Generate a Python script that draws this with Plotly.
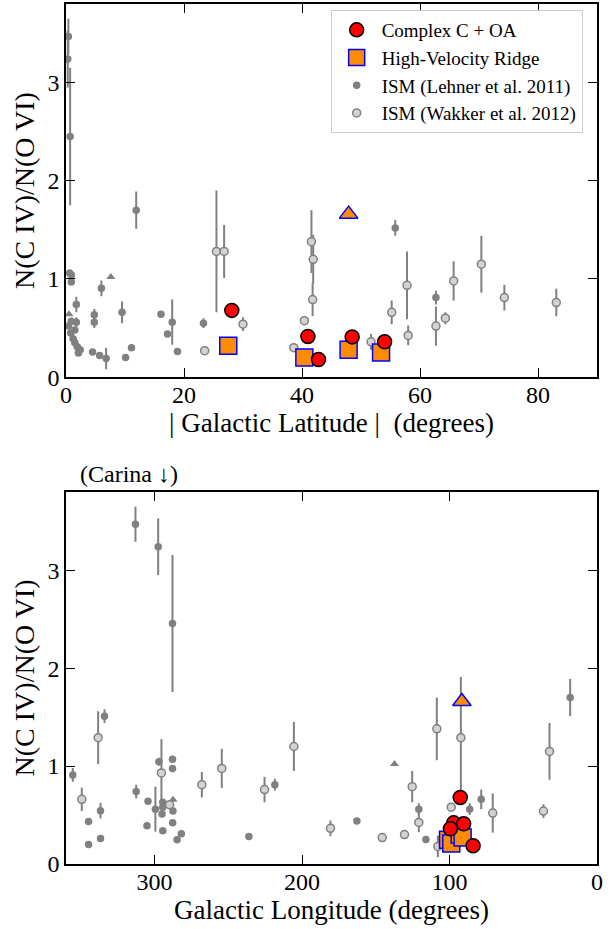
import plotly.graph_objects as go

# ---------------- data: top panel (|Galactic latitude|) ----------------
cc_lat = [28.1, 41.0, 42.8, 48.5, 54.0]
cc_lat_ratio = [0.68, 0.415, 0.18, 0.41, 0.36]

hvr_lat = [27.5, 40.4, 47.9, 53.4]
hvr_lat_ratio = [0.32, 0.20, 0.28, 0.25]
hvr_lat_lim = [47.9]
hvr_lat_lim_ratio = [1.66]

leh_lat = [0.4, 0.3, 0.7, 11.9, 55.8, 0.6, 0.9, 0.9, 6.0, 1.75, 4.8, 4.8, 0.9, 1.75,
           1.5, 0.8, 1.2, 1.5, 1.9, 2.4, 2.1, 0.45, 4.5, 5.7, 6.8, 9.5, 10.1, 11.1,
           16.1, 17.2, 18.0, 18.9, 23.3, 62.7]
leh_lat_ratio = [3.47, 3.24, 2.45, 1.70, 1.52, 1.06, 1.04, 0.97, 0.905, 0.74, 0.635, 0.56,
                 0.57, 0.56, 0.48, 0.45, 0.39, 0.35, 0.31, 0.28, 0.245, 0.52, 0.256, 0.22,
                 0.19, 0.66, 0.20, 0.30, 0.64, 0.44, 0.56, 0.26, 0.55, 0.81]
leh_lat_err = [0.18, 0.29, 0.70, 0.19, 0.08, 0.0, 0.04, 0.0, 0.08, 0.08, 0.06, 0.06,
               0.0, 0.05, 0.0, 0.0, 0.0, 0.0, 0.0, 0.0, 0.0, 0.0, 0.0, 0.0,
               0.11, 0.11, 0.0, 0.0, 0.0, 0.0, 0.23, 0.0, 0.05, 0.07]
leh_lat_lim = [7.6, 0.5]
leh_lat_lim_ratio = [1.02, 0.64]

wak_lat = [25.5, 26.8, 30.0, 23.5, 41.6, 41.9, 41.8, 40.4, 38.6, 57.8, 65.7, 70.4,
           74.3, 83.1, 62.7, 64.3, 55.2, 58.0, 51.7]
wak_lat_ratio = [1.28, 1.28, 0.54, 0.27, 1.38, 1.20, 0.79, 0.575, 0.30, 0.935, 0.98, 1.15,
                 0.81, 0.76, 0.52, 0.60, 0.66, 0.425, 0.36]
wak_lat_err = [0.62, 0.27, 0.07, 0.03, 0.32, 0.25, 0.17, 0.03, 0.03, 0.345, 0.20, 0.29,
               0.13, 0.14, 0.20, 0.06, 0.12, 0.10, 0.08]

# ---------------- data: bottom panel (Galactic longitude) ----------------
cc_lon = [92.7, 97.2, 84.0, 90.4, 99.4]
cc_lon_ratio = [0.68, 0.42, 0.186, 0.41, 0.36]

hvr_lon = [101.0, 98.8, 93.1, 91.1]
hvr_lon_ratio = [0.247, 0.21, 0.30, 0.27]
hvr_lon_lim = [91.6]
hvr_lon_lim_ratio = [1.66]

leh_lon = [312.9, 297.5, 287.8, 333.9, 355.4, 344.7, 344.7, 336.6, 336.6, 312.4, 304.4,
           305.1, 299.4, 297.0, 294.4, 294.4, 294.9, 294.4, 287.8, 287.8, 287.5, 287.7,
           281.8, 284.7, 236.0, 218.4, 162.8, 120.8, 116.0, 86.3, 78.5, 18.2]
leh_lon_ratio = [3.47, 3.24, 2.455, 1.51, 0.91, 0.435, 0.20, 0.545, 0.26, 0.74, 0.64,
                 0.39, 0.56, 1.045, 0.63, 0.58, 0.51, 0.34, 1.07, 0.976, 0.54, 0.42,
                 0.31, 0.247, 0.28, 0.81, 0.44, 0.56, 0.25, 0.56, 0.66, 1.70]
leh_lon_err = [0.18, 0.29, 0.70, 0.07, 0.07, 0.0, 0.0, 0.08, 0.0, 0.07, 0.0,
               0.0, 0.23, 0.04, 0.0, 0.0, 0.0, 0.0, 0.0, 0.0, 0.0, 0.0,
               0.0, 0.0, 0.0, 0.06, 0.0, 0.06, 0.0, 0.06, 0.10, 0.19]
leh_lon_lim = [137.3, 287.5]
leh_lon_lim_ratio = [1.02, 0.655]

wak_lon = [338.2, 349.3, 295.3, 289.8, 267.9, 254.4, 225.4, 205.5, 180.7, 145.6, 130.5,
           125.3, 120.8, 107.9, 108.6, 98.8, 92.3, 70.7, 36.3, 32.2]
wak_lon_ratio = [1.29, 0.66, 0.93, 0.605, 0.81, 0.976, 0.76, 1.20, 0.364, 0.27, 0.30,
                 0.79, 0.425, 0.18, 1.38, 0.58, 1.29, 0.52, 0.54, 1.15]
wak_lon_err = [0.27, 0.12, 0.345, 0.03, 0.13, 0.20, 0.13, 0.25, 0.08, 0.03, 0.03,
               0.16, 0.10, 0.11, 0.32, 0.03, 0.62, 0.20, 0.07, 0.29]

# ---------------- styles ----------------
FONT = "Liberation Serif, Times New Roman, serif"
GRAY = "#808080"
LIGHT = "#d3d3d3"

fig = go.Figure()


def add_panel(xa, ya, leh, leh_r, leh_e, leh_l, leh_lr, wak, wak_r, wak_e,
              hvr, hvr_r, hvr_l, hvr_lr, cc, cc_r, show):
    err = dict(type="data", color=GRAY, thickness=2, width=0)
    fig.add_trace(go.Scatter(
        x=leh, y=leh_r, mode="markers", xaxis=xa, yaxis=ya,
        name="ISM (Lehner et al. 2011)", legendgroup="leh", legendrank=3, showlegend=show,
        marker=dict(color=GRAY, size=7.5, line=dict(width=0)),
        error_y=dict(array=leh_e, **err)))
    fig.add_trace(go.Scatter(
        x=leh_l, y=leh_lr, mode="markers", xaxis=xa, yaxis=ya, showlegend=False,
        marker=dict(color=GRAY, size=8, symbol="triangle-up", line=dict(width=0))))
    fig.add_trace(go.Scatter(
        x=wak, y=wak_r, mode="markers", xaxis=xa, yaxis=ya,
        name="ISM (Wakker et al. 2012)", legendgroup="wak", legendrank=4, showlegend=show,
        marker=dict(color=LIGHT, size=8, line=dict(color=GRAY, width=1.5)),
        error_y=dict(array=wak_e, **err)))
    fig.add_trace(go.Scatter(
        x=hvr, y=hvr_r, mode="markers", xaxis=xa, yaxis=ya,
        name="High-Velocity Ridge", legendgroup="hvr", legendrank=2, showlegend=show,
        marker=dict(color="#ff8c00", size=17, symbol="square",
                    line=dict(color="#0000ff", width=1.5))))
    fig.add_trace(go.Scatter(
        x=hvr_l, y=hvr_lr, mode="markers", xaxis=xa, yaxis=ya, showlegend=False,
        marker=dict(color="#ff8c00", size=16, symbol="triangle-up",
                    line=dict(color="#0000ff", width=1.5))))
    fig.add_trace(go.Scatter(
        x=cc, y=cc_r, mode="markers", xaxis=xa, yaxis=ya,
        name="Complex C + OA", legendgroup="cc", legendrank=1, showlegend=show,
        marker=dict(color="#ff0000", size=14, line=dict(color="black", width=1.5))))


add_panel("x", "y", leh_lat, leh_lat_ratio, leh_lat_err, leh_lat_lim, leh_lat_lim_ratio,
          wak_lat, wak_lat_ratio, wak_lat_err, hvr_lat, hvr_lat_ratio, hvr_lat_lim,
          hvr_lat_lim_ratio, cc_lat, cc_lat_ratio, True)
add_panel("x2", "y2", leh_lon, leh_lon_ratio, leh_lon_err, leh_lon_lim, leh_lon_lim_ratio,
          wak_lon, wak_lon_ratio, wak_lon_err, hvr_lon, hvr_lon_ratio, hvr_lon_lim,
          hvr_lon_lim_ratio, cc_lon, cc_lon_ratio, False)

axis_common = dict(
    showline=True, linecolor="black", linewidth=1.5, mirror="allticks",
    ticks="inside", ticklen=9, tickwidth=1.2, tickcolor="black",
    showgrid=False, zeroline=False,
    tickfont=dict(family=FONT, size=24, color="black"),
)
XT = dict(family=FONT, size=27, color="black")
YT = dict(family=FONT, size=28, color="black")

fig.update_layout(
    width=611, height=929,
    margin=dict(l=66, r=14, t=2, b=65),
    paper_bgcolor="white", plot_bgcolor="white",
    font=dict(family=FONT, color="black"),
    showlegend=True,
    legend=dict(
        x=0.973, y=0.993, xanchor="right", yanchor="top",
        bgcolor="white", bordercolor="#cccccc", borderwidth=1,
        font=dict(family=FONT, size=19, color="black"),
        traceorder="grouped", tracegroupgap=0, itemwidth=40,
    ),
    xaxis=dict(axis_common, range=[0, 90], tickvals=[0, 20, 40, 60, 80],
               anchor="y", domain=[0, 1], ticklabelstandoff=-5,
               title=dict(text="| Galactic Latitude |  (degrees)", font=XT, standoff=0)),
    yaxis=dict(axis_common, range=[0, 3.8], tickvals=[0, 1, 2, 3],
               anchor="x", domain=[0.5661, 1],
               title=dict(text="N(C IV)/N(O VI)", font=YT, standoff=5)),
    xaxis2=dict(axis_common, range=[360, 0], tickvals=[0, 100, 200, 300],
                anchor="y2", domain=[0, 1], ticklabelstandoff=-5,
                title=dict(text="Galactic Longitude (degrees)", font=XT, standoff=0)),
    yaxis2=dict(axis_common, range=[0, 3.8], tickvals=[0, 1, 2, 3],
                anchor="x2", domain=[0, 0.4327],
                title=dict(text="N(C IV)/N(O VI)", font=YT, standoff=5)),
    annotations=[dict(
        text="(Carina \u2193)", xref="paper", yref="paper",
        x=0.119, y=0.453, xanchor="center", yanchor="middle", showarrow=False,
        font=dict(family=FONT, size=24, color="black"))],
)

fig.write_html("out.html")
